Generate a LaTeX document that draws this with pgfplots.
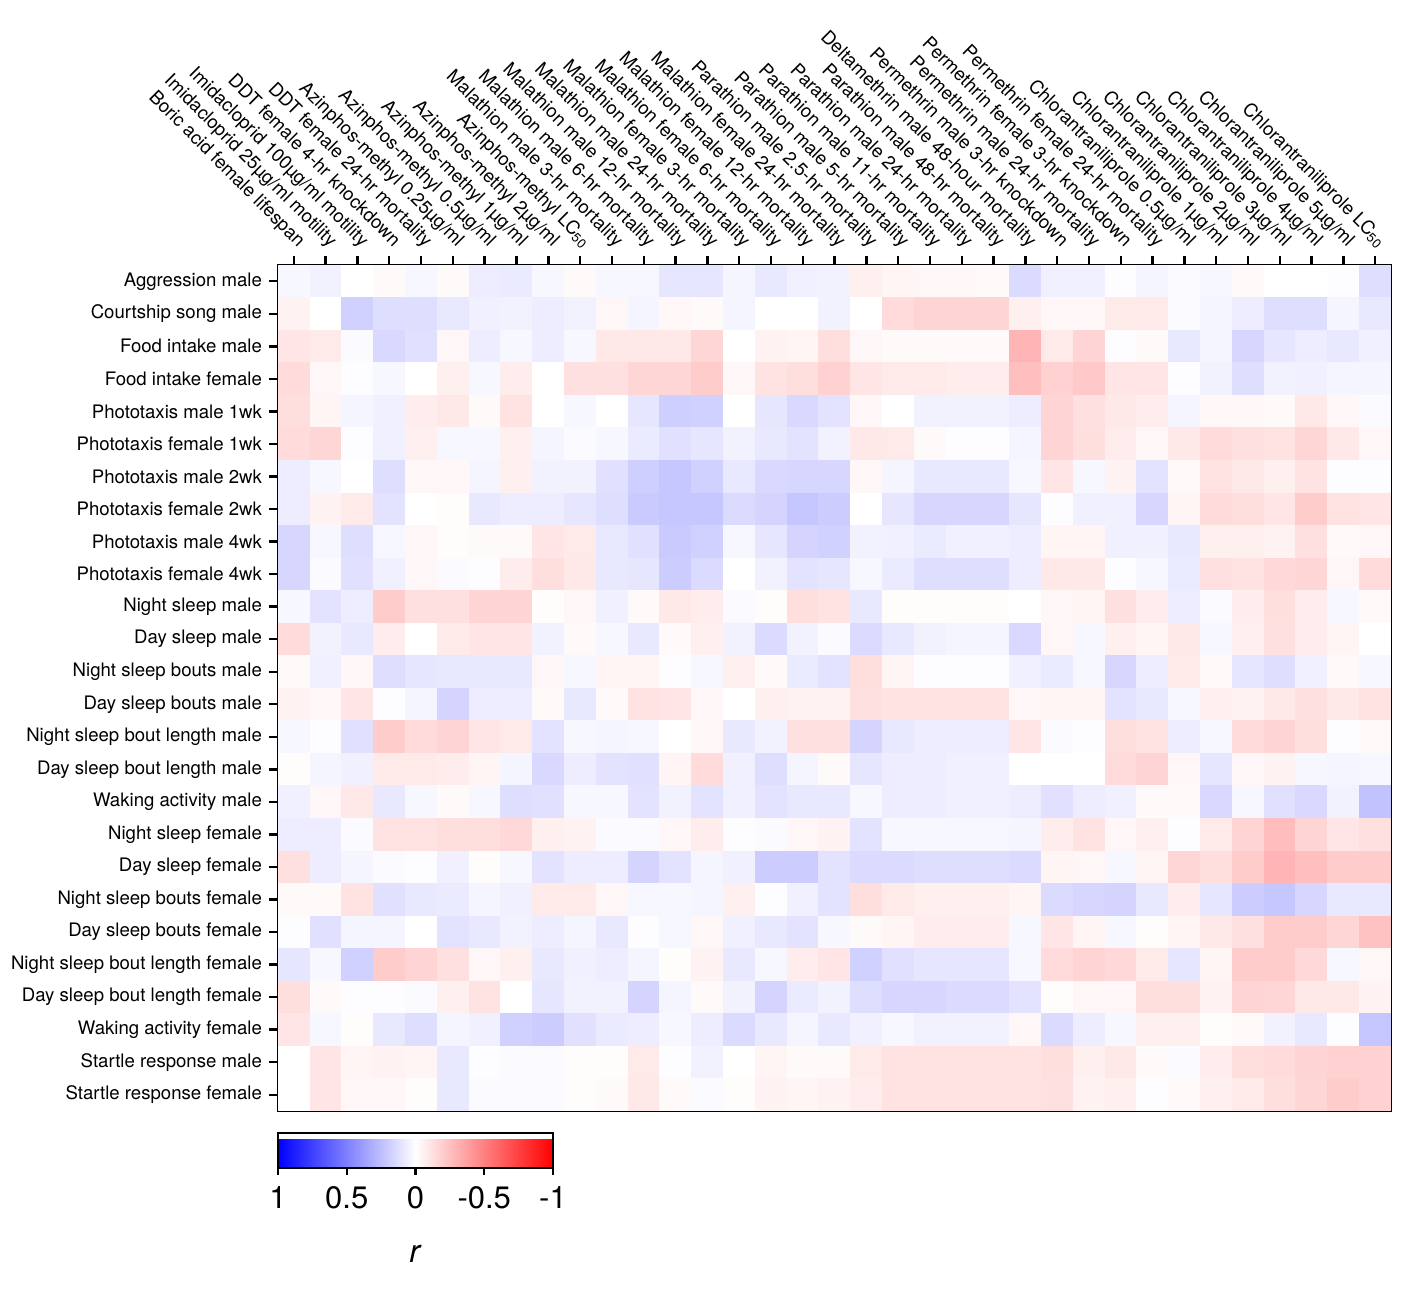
\documentclass[border=0pt]{standalone}
\usepackage{fontspec}
\setmainfont{TeX Gyre Heros}
\usepackage{pgfplots}
\usepackage{pgfplotstable}
\pgfplotsset{compat=1.18}

\newcommand\lab{\fontsize{9.3}{11}\selectfont}

% one filled cell of the heat map (axis cell is 15.9pt x 16.27pt)
\pgfdeclareplotmark{cell}{%
  \pgfpathrectangle{\pgfpoint{-8.05pt}{-8.24pt}}{\pgfpoint{16.1pt}{16.48pt}}%
  \pgfusepathqfill}

% Pearson r, one line per behaviour (row 1 = top), c1..c35 = insecticide traits
\pgfplotstableread{
row c1 c2 c3 c4 c5 c6 c7 c8 c9 c10 c11 c12 c13 c14 c15 c16 c17 c18 c19 c20 c21 c22 c23 c24 c25 c26 c27 c28 c29 c30 c31 c32 c33 c34 c35
1  0.03 0.05 0 -0.02 0.03 -0.02 0.07 0.08 0.03 -0.02 0.03 0.03 0.10 0.10 0.04 0.09 0.06 0.05 -0.06 -0.04 -0.03 -0.03 -0.02 0.14 0.06 0.06 0.01 0.04 0.02 0.03 -0.02 0 0 0.01 0.13
2  -0.05 0 0.18 0.13 0.13 0.09 0.06 0.05 0.07 0.05 -0.03 0.04 -0.03 -0.02 0.04 0 0 0.05 0 -0.14 -0.17 -0.17 -0.17 -0.06 -0.03 -0.03 -0.08 -0.08 0.02 0.04 0.07 0.13 0.13 0.04 0.09
3  -0.10 -0.08 0.02 0.15 0.12 -0.03 0.07 0.03 0.07 0.03 -0.09 -0.09 -0.09 -0.16 0 -0.05 -0.04 -0.13 -0.03 -0.02 -0.02 -0.02 -0.02 -0.29 -0.08 -0.17 0.01 -0.02 0.09 0.04 0.16 0.10 0.07 0.09 0.06
4  -0.14 -0.03 0.01 0.03 0 -0.06 0.03 -0.07 0 -0.12 -0.12 -0.16 -0.16 -0.20 -0.03 -0.11 -0.13 -0.18 -0.10 -0.08 -0.08 -0.07 -0.07 -0.25 -0.18 -0.21 -0.10 -0.10 0.01 0.05 0.13 0.05 0.06 0.04 0.04
5  -0.13 -0.04 0.04 0.06 -0.07 -0.09 -0.02 -0.11 0 0.03 0 0.10 0.19 0.18 0 0.10 0.15 0.11 -0.03 0 0.05 0.05 0.05 0.07 -0.17 -0.12 -0.09 -0.07 0.04 -0.03 -0.03 -0.02 -0.09 -0.03 0.02
6  -0.14 -0.16 0.01 0.06 -0.06 0.03 0.03 -0.06 0.04 0.02 0.03 0.08 0.12 0.10 0.05 0.09 0.11 0.05 -0.09 -0.08 -0.02 0.01 0.01 0.04 -0.17 -0.13 -0.07 -0.03 -0.09 -0.14 -0.12 -0.11 -0.16 -0.09 -0.03
7  0.07 0.03 0 0.13 -0.03 -0.03 0.04 -0.06 0.05 0.05 0.12 0.19 0.22 0.18 0.09 0.15 0.16 0.16 -0.03 0.04 0.09 0.09 0.09 0.03 -0.10 0.03 -0.05 0.11 -0.02 -0.11 -0.09 -0.06 -0.11 0.01 0.01
8  0.07 -0.05 -0.08 0.11 0 -0.01 0.09 0.07 0.07 0.10 0.13 0.21 0.22 0.22 0.14 0.17 0.23 0.20 0 0.10 0.16 0.16 0.16 0.10 0.01 0.06 0.06 0.16 -0.04 -0.14 -0.13 -0.10 -0.20 -0.11 -0.10
9  0.16 0.03 0.13 0.03 -0.03 -0.01 -0.02 -0.02 -0.10 -0.08 0.09 0.12 0.21 0.18 0.03 0.10 0.17 0.18 0.05 0.06 0.08 0.06 0.06 0.07 -0.04 -0.04 0.06 0.06 0.09 -0.06 -0.06 -0.05 -0.12 -0.02 -0.03
10 0.16 0.02 0.12 0.06 -0.03 0.02 0.01 -0.07 -0.13 -0.09 0.09 0.10 0.20 0.14 0 0.05 0.11 0.10 0.03 0.08 0.13 0.13 0.13 0.07 -0.09 -0.09 0.01 0.03 0.08 -0.12 -0.11 -0.15 -0.16 -0.03 -0.14
11 0.03 0.11 0.07 -0.20 -0.12 -0.12 -0.17 -0.17 -0.01 -0.03 0.06 -0.02 -0.09 -0.07 0.02 -0.01 -0.13 -0.11 0.09 -0.01 -0.01 -0.01 -0.01 0 -0.03 -0.04 -0.12 -0.07 0.07 0.02 -0.07 -0.13 -0.07 0.03 -0.02
12 -0.14 0.05 0.09 -0.07 0 -0.08 -0.10 -0.10 0.05 -0.02 0.03 0.09 -0.02 -0.06 0.05 0.14 0.05 0.02 0.14 0.09 0.05 0.04 0.04 0.15 -0.03 0.03 -0.06 -0.04 -0.09 0.03 -0.06 -0.12 -0.07 -0.04 0
13 -0.02 0.06 -0.03 0.13 0.10 0.09 0.09 0.09 -0.03 0.03 -0.04 -0.04 0.01 0.03 -0.06 -0.02 0.08 0.11 -0.13 -0.04 0.01 0.01 0.01 0.06 0.08 0.03 0.16 0.07 -0.08 -0.02 0.10 0.13 0.06 -0.02 0.03
14 -0.05 -0.03 -0.10 0.01 0.04 0.17 0.07 0.07 -0.02 0.09 -0.02 -0.11 -0.10 -0.03 0 -0.06 -0.05 -0.05 -0.12 -0.11 -0.11 -0.11 -0.11 -0.03 -0.04 -0.04 0.11 0.09 0.03 -0.06 -0.05 -0.09 -0.12 -0.09 -0.11
15 0.03 0.01 0.12 -0.20 -0.14 -0.17 -0.10 -0.08 0.11 0.03 0.04 0.03 0 -0.03 0.09 0.05 -0.12 -0.12 0.17 0.09 0.07 0.07 0.07 -0.10 0.02 0.01 -0.13 -0.11 0.07 0.03 -0.14 -0.17 -0.13 0.01 -0.02
16 -0.01 0.04 0.06 -0.08 -0.08 -0.07 -0.04 0.04 0.15 0.07 0.11 0.12 -0.04 -0.14 0.06 0.13 0.04 -0.02 0.10 0.07 0.07 0.06 0.06 0 0 0 -0.14 -0.17 -0.03 0.10 -0.03 -0.05 0.03 0.04 0.03
17 0.06 -0.03 -0.09 0.09 0.03 -0.02 0.03 0.13 0.12 0.03 0.03 0.11 0.05 0.11 0.06 0.11 0.09 0.09 0.03 0.07 0.07 0.06 0.06 0.07 0.12 0.07 0.06 -0.02 -0.02 0.15 0.03 0.12 0.15 0.05 0.24
18 0.07 0.07 0.02 -0.11 -0.11 -0.13 -0.13 -0.15 -0.06 -0.05 0.02 0.02 -0.03 -0.07 0.01 0.02 -0.03 -0.05 0.11 0.03 0.03 0.03 0.03 0.04 -0.07 -0.11 -0.03 -0.06 0.01 -0.08 -0.17 -0.26 -0.17 -0.10 -0.12
19 -0.12 0.07 0.04 0.02 0.01 0.06 -0.01 0.03 0.11 0.07 0.07 0.17 0.11 0.04 0.06 0.20 0.20 0.11 0.14 0.14 0.13 0.13 0.13 0.14 -0.04 -0.03 0.03 -0.04 -0.16 -0.13 -0.20 -0.29 -0.25 -0.20 -0.20
20 -0.02 -0.02 -0.11 0.12 0.09 0.08 0.04 0.06 -0.08 -0.08 -0.03 0.03 0.03 0.04 -0.06 0.01 0.06 0.11 -0.13 -0.08 -0.06 -0.06 -0.06 -0.04 0.14 0.16 0.17 0.09 -0.07 0.10 0.20 0.22 0.16 0.09 0.09
21 0.01 0.12 0.04 0.04 0 0.11 0.09 0.05 0.07 0.04 0.09 0.01 0.03 -0.03 0.06 0.09 0.11 0.03 -0.02 -0.04 -0.07 -0.07 -0.07 0.03 -0.10 -0.04 0.03 -0.01 -0.04 -0.09 -0.12 -0.20 -0.20 -0.16 -0.24
22 0.10 0.03 0.18 -0.20 -0.17 -0.12 -0.03 -0.06 0.09 0.06 0.07 0.04 -0.01 -0.05 0.09 0.03 -0.07 -0.10 0.18 0.12 0.10 0.10 0.10 0.03 -0.14 -0.17 -0.15 -0.08 0.10 -0.04 -0.20 -0.20 -0.15 0.03 -0.03
23 -0.13 -0.02 0.01 0.01 0.02 -0.06 -0.11 0 0.10 0.05 0.05 0.17 0.04 -0.02 0.05 0.17 0.08 0.05 0.13 0.16 0.16 0.14 0.14 0.11 -0.01 -0.03 -0.03 -0.13 -0.13 -0.05 -0.17 -0.16 -0.09 -0.09 -0.05
24 -0.10 0.03 -0.01 0.09 0.13 0.04 0.06 0.18 0.20 0.12 0.08 0.07 0.03 0.07 0.14 0.09 0.04 0.09 0.06 0.03 0.05 0.05 0.05 -0.03 0.14 0.07 0.03 -0.06 -0.06 -0.01 -0.02 0.05 0.09 0.01 0.23
25 0 -0.10 -0.04 -0.05 -0.04 0.09 0.01 0.02 0.02 -0.01 -0.01 -0.08 0.01 0.05 0 -0.04 -0.02 -0.02 -0.08 -0.11 -0.11 -0.11 -0.11 -0.11 -0.13 -0.06 -0.09 -0.02 0.02 -0.07 -0.13 -0.14 -0.17 -0.18 -0.18
26 0 -0.10 -0.03 -0.03 -0.01 0.09 0.02 0.02 0.02 -0.01 -0.02 -0.09 -0.02 0.02 -0.01 -0.05 -0.04 -0.05 -0.07 -0.11 -0.11 -0.11 -0.11 -0.11 -0.12 -0.05 -0.06 0.01 -0.02 -0.06 -0.08 -0.13 -0.16 -0.20 -0.18
}\corr

\begin{document}
\begin{tikzpicture}
\begin{axis}[
    name=main,
    width=556.5pt, height=423pt, scale only axis,
    xmin=0.5, xmax=35.5, ymin=0.5, ymax=26.5,
    y dir=reverse,
    axis on top,
    colormap={bwr}{rgb255(0cm)=(255,0,0) rgb255(1cm)=(255,255,255) rgb255(2cm)=(0,0,255)},
    point meta min=-1, point meta max=1,
    axis line style={line width=1.4pt},
    tick style={line width=1.2pt, black},
    tick align=outside, major tick length=4.5pt,
    xtick={1,...,35}, ytick={1,...,26},
    xtick pos=right, xticklabel pos=right, ytick pos=left,
    xticklabel style={font=\lab, inner sep=0pt, anchor=base east, xshift=2pt, yshift=4pt, rotate=-45},
    yticklabel style={font=\lab},
    xticklabels={
        Boric acid female lifespan,
        Imidacloprid 25µg/ml motility,
        Imidacloprid 100µg/ml motility,
        DDT female 4-hr knockdown,
        DDT female 24-hr mortality,
        Azinphos-methyl 0.25µg/ml,
        Azinphos-methyl 0.5µg/ml,
        Azinphos-methyl 1µg/ml,
        Azinphos-methyl 2µg/ml,
        Azinphos-methyl LC\textsubscript{50},
        Malathion male 3-hr mortality,
        Malathion male 6-hr mortality,
        Malathion male 12-hr mortality,
        Malathion male 24-hr mortality,
        Malathion female 3-hr mortality,
        Malathion female 6-hr mortality,
        Malathion female 12-hr mortality,
        Malathion female 24-hr mortality,
        Parathion male 2.5-hr mortality,
        Parathion male 5-hr mortality,
        Parathion male 11-hr mortality,
        Parathion male 24-hr mortality,
        Parathion male 48-hr mortality,
        Deltamethrin male 48-hour mortality,
        Permethrin male 3-hr knockdown,
        Permethrin male 24-hr mortality,
        Permethrin female 3-hr knockdown,
        Permethrin female 24-hr mortality,
        Chlorantraniliprole 0.5µg/ml,
        Chlorantraniliprole 1µg/ml,
        Chlorantraniliprole 2µg/ml,
        Chlorantraniliprole 3µg/ml,
        Chlorantraniliprole 4µg/ml,
        Chlorantraniliprole 5µg/ml,
        Chlorantraniliprole LC\textsubscript{50}},
    yticklabels={
        Aggression male,
        Courtship song male,
        Food intake male,
        Food intake female,
        Phototaxis male 1wk,
        Phototaxis female 1wk,
        Phototaxis male 2wk,
        Phototaxis female 2wk,
        Phototaxis male 4wk,
        Phototaxis female 4wk,
        Night sleep male,
        Day sleep male,
        Night sleep bouts male,
        Day sleep bouts male,
        Night sleep bout length male,
        Day sleep bout length male,
        Waking activity male,
        Night sleep female,
        Day sleep female,
        Night sleep bouts female,
        Day sleep bouts female,
        Night sleep bout length female,
        Day sleep bout length female,
        Waking activity female,
        Startle response male,
        Startle response female},
    colorbar horizontal,
    colorbar style={
        at={(parent axis.south west)}, anchor=north west, yshift=-2.5pt,
        width=137.5pt, height=17.5pt, scale only axis,
        x dir=reverse,
        axis line style={line width=1.4pt},
        tick style={line width=1.2pt, black},
        xtick={-1,-0.5,0,0.5,1}, xticklabels={-1,-0.5,0,0.5,1},
        xtick pos=left, xticklabel pos=left, ytick=\empty,
        tick align=outside, major tick length=3.5pt,
        xticklabel style={font=\fontsize{15.5}{18}\selectfont, yshift=-2pt},
        xlabel={\textit{r}},
        xlabel style={font=\fontsize{16}{19}\selectfont, yshift=-11.5pt},
    },
]
\pgfplotsinvokeforeach{1,...,35}{
    \addplot[scatter, only marks, mark=cell, point meta=explicit]
        table[x expr=#1, y=row, meta=c#1] {\corr};
}
\end{axis}
\path (main.south west) ++(-139pt,-90.5pt) rectangle ([shift={(7.5pt,132.5pt)}]main.north east);
\end{tikzpicture}
\end{document}
